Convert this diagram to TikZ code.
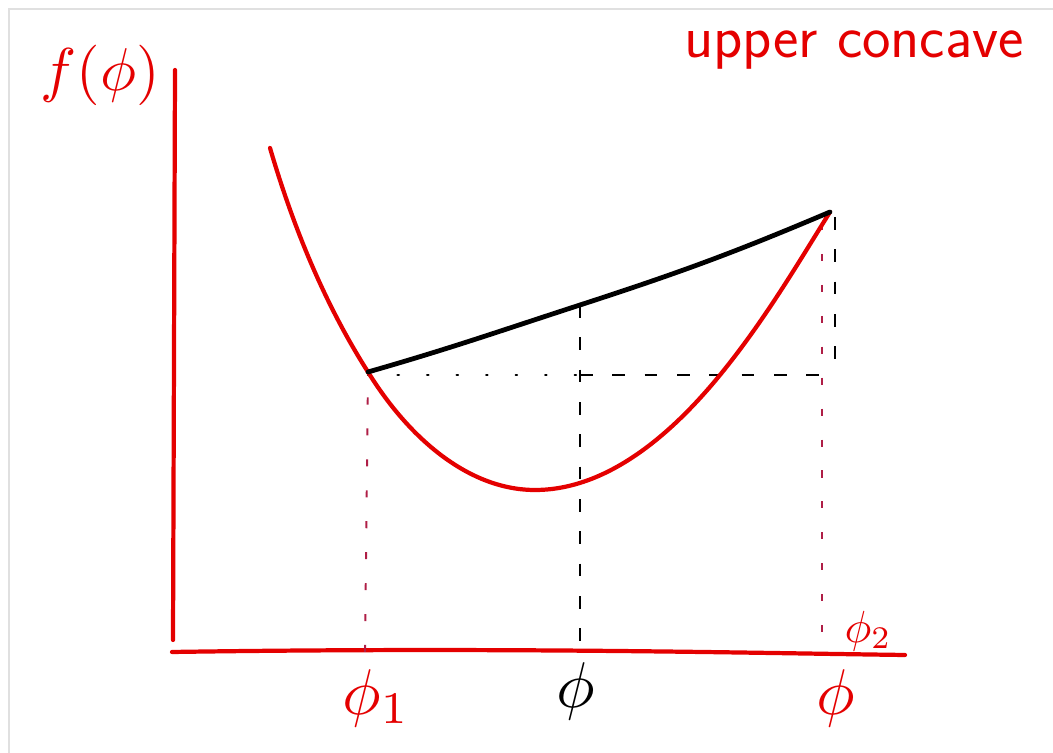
\documentclass[tikz,border=0pt]{standalone}
\usepackage{tikz}
\usetikzlibrary{positioning, calc}
\definecolor{penred}{RGB}{228,0,0}
\definecolor{dotred}{RGB}{175,30,70}
\tikzset{
  axis/.style={draw=penred, line width=3pt, line cap=round},
  redcurve/.style={draw=penred, line width=3pt, line cap=round},
  chordline/.style={draw=black, line width=3.4pt, line cap=round},
  guide/.style={draw=black, line width=1.4pt, dash pattern=on 9pt off 14pt},
  dotguide/.style={draw=black, line width=1.6pt, line cap=round, dash pattern=on 1pt off 20pt},
  redguide/.style={draw=dotred, line width=1.4pt, dash pattern=on 5pt off 17pt},
  hand/.style={text=penred, inner sep=0pt}
}

\begin{document}
\begin{tikzpicture}[x=0.025cm, y=0.025cm]
\useasboundingbox (0,0) rectangle (1053,753);
\draw[black!12, line width=0.8pt] (9,0) -- (9,744) -- (1053,744);

% axes
\coordinate (origin) at (172,101);
\coordinate (ytop) at (175,683);
\coordinate (ybot) at (173,113);
\coordinate (xend) at (905,98);
\draw[axis] (ybot) -- (ytop);
\draw[axis] (origin) .. controls (500,106) and (750,100) .. (xend);

% points on the curve
\coordinate (top) at (270,605);
\coordinate (p1) at (368,381);
\coordinate (low) at (535,263);
\coordinate (cross) at (720,378);
\coordinate (p2) at (830,541);
\coordinate (mid) at (580,448);

% guide lines
\coordinate (p1foot) at (365,101);
\coordinate (midfoot) at (580,101);
\coordinate (p2foot) at (822,101);
\coordinate (p2red) at (822,530);
\coordinate (p2blk) at (835,536);
\coordinate (hend) at (835,378);
\draw[redguide] (p1foot) -- (p1 |- hend);
\draw[guide] (mid) -- (midfoot);
\draw[redguide] (p2red) -- (p2foot);
\draw[guide] (p2blk) -- (hend);
\draw[dotguide] (p1 |- hend) -- (mid |- hend);
\draw[guide] (mid |- hend) -- (hend);

% function and chord
\draw[redcurve] (top) .. controls (300,503) and (335,433) .. (p1)
  .. controls (410,313) and (470,263) .. (low)
  .. controls (610,263) and (675,323) .. (cross)
  .. controls (765,433) and (800,493) .. (p2);
\draw[chordline] (p1) to[out=16,in=198] (mid) to[out=18,in=203] (p2);

% labels
\node[hand, scale=4.3] (flabel) at (100,678) {$f(\phi)$};
\node[hand, font=\sffamily\fontsize{43}{50}\selectfont] (title) at (854,703) {upper concave};
\node[hand, scale=4.6] (phione) at (376,55) {$\phi_1$};
\node[inner sep=0pt, scale=4.6] (phimid) at (576,62) {$\phi$};
\node[hand, scale=4.6] (phiaxis) at (836,55) {$\phi$};
\node[hand, scale=3.2] (phitwo) at (868,122) {$\phi_2$};
\end{tikzpicture}
\end{document}
